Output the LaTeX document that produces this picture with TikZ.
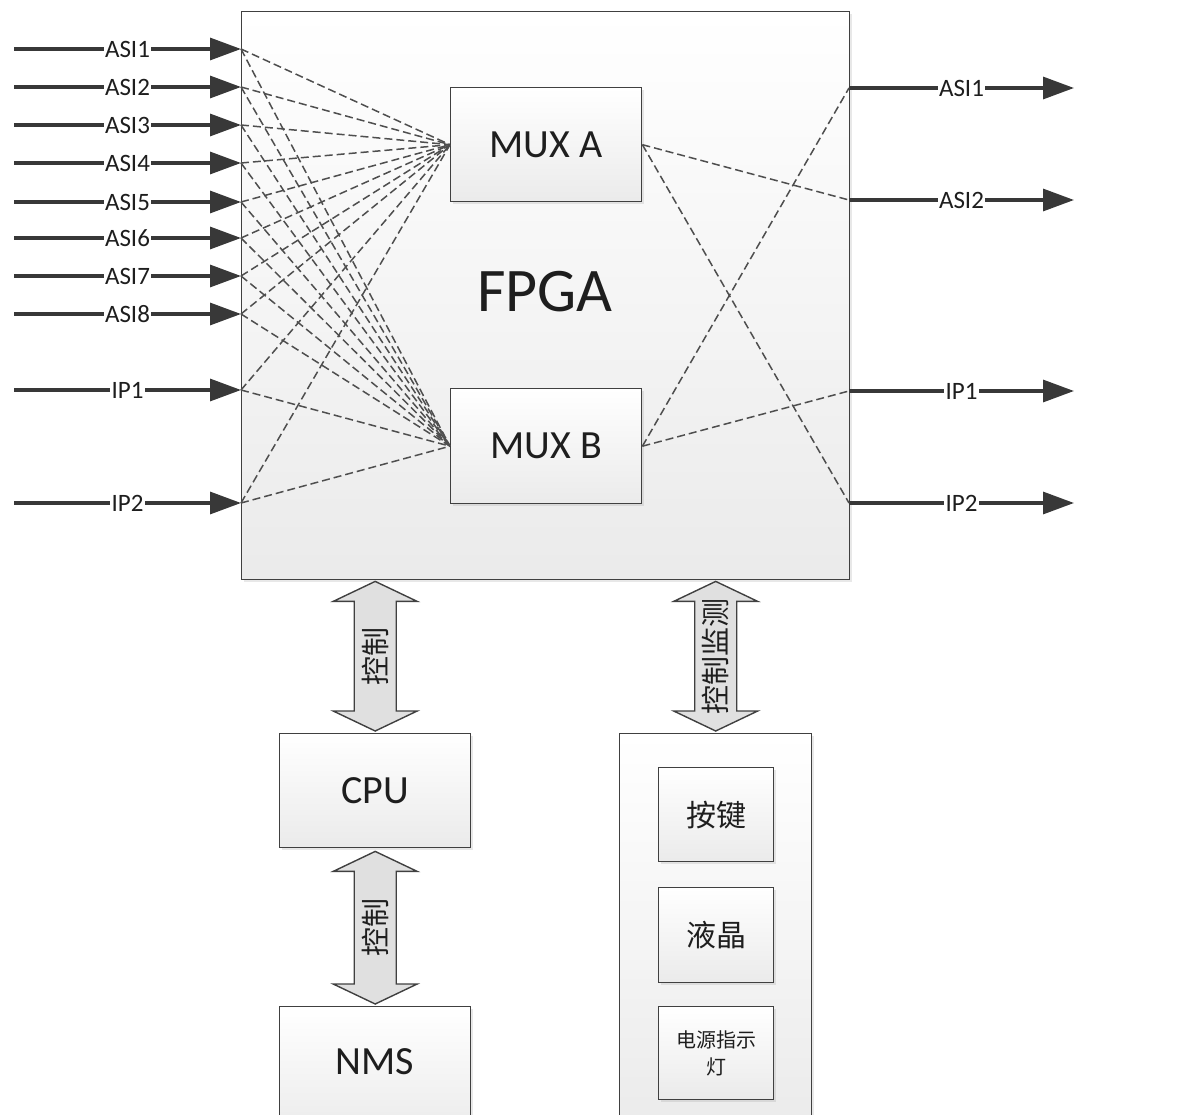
\documentclass[tikz,border=0pt]{standalone}
\usepackage{fontspec}
\setmainfont{Carlito}
\newfontfamily\cjk{Noto Sans CJK SC}
\usetikzlibrary{arrows.meta,shadows,calc}
\definecolor{boxc}{HTML}{404040}
\definecolor{linec}{HTML}{383838}
\definecolor{txtc}{HTML}{1E1E1E}
\definecolor{dashc}{HTML}{4E4E4E}
\newcommand\mydblarrow[2]{%
  \draw[darrow] (#1) -- ($(#1)+(42,20)$) -- ($(#1)+(21,20)$) -- ($(#2)+(21,-20)$) -- ($(#2)+(42,-20)$) -- (#2) -- ($(#2)+(-42,-20)$) -- ($(#2)+(-21,-20)$) -- ($(#1)+(-21,20)$) -- ($(#1)+(-42,20)$) -- cycle;}
\begin{document}
\begin{tikzpicture}[x=1pt,y=-1pt,
  box/.style={draw=boxc, line width=1.4pt, top color=white, bottom color=black!8,
    drop shadow={opacity=0.18, shadow xshift=2pt, shadow yshift=-2pt},
    inner sep=0pt, anchor=north west, text=txtc},
  io/.style={line width=3.2pt, draw=linec, -{Triangle[length=31pt,width=22pt]}},
  iolbl/.style={fill=white, inner sep=1.2pt, font=\fontsize{25}{25}\selectfont, text=txtc},
  dsh/.style={draw=dashc, line width=1.5pt, dash pattern=on 8pt off 4pt},
  darrow/.style={draw=boxc, line width=1.4pt, fill=black!12},
  vlbl/.style={rotate=90, font=\cjk\fontsize{29}{29}\selectfont, text=txtc, inner sep=0pt},
  big/.style={font=\fontsize{40}{40}\selectfont},
  cjkbig/.style={font=\cjk\fontsize{30}{30}\selectfont},
]
\path[use as bounding box] (0,0) rectangle (1179,1115);
\clip (0,0) rectangle (1179,1115);

% FPGA
\node[box, minimum width=608, minimum height=568, bottom color=black!8] (fpga) at (241,11) {};
\node[font=\fontsize{62}{62}\selectfont, text=txtc] (fpgalbl) at (545,292) {FPGA};

% MUX boxes
\node[box, big, minimum width=191, minimum height=114] (muxa) at (450,87) {MUX A};
\node[box, big, minimum width=191, minimum height=115] (muxb) at (450,388) {MUX B};

% inputs
\foreach \t/\yy [count=\i] in {ASI1/49,ASI2/87,ASI3/125,ASI4/163,ASI5/202,ASI6/238,ASI7/276,ASI8/314,IP1/390,IP2/503}{
  \coordinate (is\i) at (14,\yy);
  \coordinate (ie\i) at (241,\yy);
  \draw[dsh] (ie\i) -- (muxa.west);
  \draw[dsh] (ie\i) -- (muxb.west);
}
\foreach \t [count=\i] in {ASI1,ASI2,ASI3,ASI4,ASI5,ASI6,ASI7,ASI8,IP1,IP2}{
  \draw[io] (is\i) -- node[iolbl]{\t} (ie\i);
}

% outputs
\foreach \t/\yy [count=\i] in {ASI1/88,ASI2/200,IP1/391,IP2/503}{
  \coordinate (os\i) at (849,\yy);
  \coordinate (oe\i) at (1074,\yy);
  \draw[io] (os\i) -- node[iolbl]{\t} (oe\i);
}
\draw[dsh] (muxa.east) -- (os2);
\draw[dsh] (muxa.east) -- (os4);
\draw[dsh] (muxb.east) -- (os1);
\draw[dsh] (muxb.east) -- (os3);

% lower boxes
\node[box, big, minimum width=191, minimum height=114] (cpu) at (279,733) {CPU};
\node[box, minimum width=191, minimum height=130] (nms) at (279,1006) {};
\node[big, text=txtc] (nmslbl) at (374.5,1062) {NMS};
\node[box, minimum width=192, minimum height=400] (panel) at (619,733) {};
\node[box, cjkbig, minimum width=115, minimum height=94] (keys) at (658,767) {按键};
\node[box, cjkbig, minimum width=115, minimum height=95] (lcd) at (658,887) {液晶};
\node[box, minimum width=115, minimum height=93, align=center,
  font=\cjk\fontsize{20}{27}\selectfont] (led) at (658,1006) {电源指示\\灯};

% double arrows
\coordinate (a1t) at ($(fpga.south -| cpu.north)+(0,1)$);
\coordinate (a1b) at ($(cpu.north)+(0,-2)$);
\mydblarrow{a1t}{a1b}
\node[vlbl] (l1) at ($(a1t)!0.5!(a1b)$) {控制};

\coordinate (a2t) at ($(fpga.south -| panel.north)+(0,1)$);
\coordinate (a2b) at ($(panel.north)+(0,-2)$);
\mydblarrow{a2t}{a2b}
\node[vlbl] (l2) at ($(a2t)!0.5!(a2b)$) {控制监测};

\coordinate (a3t) at ($(cpu.south)+(0,3)$);
\coordinate (a3b) at ($(nms.north)+(0,-2)$);
\mydblarrow{a3t}{a3b}
\node[vlbl] (l3) at ($(a3t)!0.5!(a3b)$) {控制};
\end{tikzpicture}
\end{document}
